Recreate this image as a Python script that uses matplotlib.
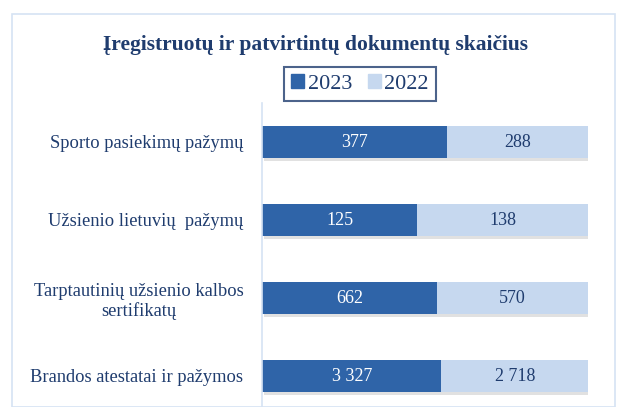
import numpy as np
import matplotlib.pyplot as plt
from matplotlib.patches import Rectangle, Patch
import matplotlib.patheffects as pe

# duomenys (iš viršaus į apačią)
categories = ["Sporto pasiekimų pažymų",
              "Užsienio lietuvių  pažymų",
              "Tarptautinių užsienio kalbos\nsertifikatų",
              "Brandos atestatai ir pažymos"]
vals_2023 = np.array([377, 125, 662, 3327])
vals_2022 = np.array([288, 138, 570, 2718])
labels_2023 = ["377", "125", "662", "3 327"]
labels_2022 = ["288", "138", "570", "2 718"]

dark = "#2F64A8"
light = "#C6D8EF"
txt = "#1F3C6E"

plt.rcParams['font.family'] = ['Liberation Serif', 'DejaVu Serif']

W, H = 623, 407
fig = plt.figure(figsize=(W / 100, H / 100), dpi=100)

# rėmelis
fig.patches.append(Rectangle((12 / W, 0), (615 - 12) / W, (H - 14) / H,
                             transform=fig.transFigure, fill=False,
                             edgecolor="#D6E3F3", linewidth=1.2))

# ašys: kairė 262, dešinė 588, viršus 103, apačia 415 (už vaizdo ribų)
ax = fig.add_axes([262 / W, (H - 415) / H, (588 - 262) / W, (415 - 103) / H])

total = vals_2023 + vals_2022
p23 = vals_2023 / total
p22 = vals_2022 / total
y = np.arange(len(categories))
h = 32 / 78

shadow = [pe.SimplePatchShadow(offset=(1.5, -2), shadow_rgbFace="#aaaaaa", alpha=0.35), pe.Normal()]
ax.barh(y, p23, height=h, color=dark, path_effects=shadow)
ax.barh(y, p22, left=p23, height=h, color=light, path_effects=shadow)

for i in range(len(y)):
    ax.text(p23[i] / 2, y[i] + 0.01, labels_2023[i], ha="center", va="center",
            color="white", fontsize=13)
    ax.text(p23[i] + p22[i] / 2, y[i] + 0.01, labels_2022[i], ha="center", va="center",
            color=txt, fontsize=13)

ax.set_xlim(0, 1)
ax.set_ylim(len(y) - 0.5, -0.5)
ax.set_yticks(y)
ax.set_yticklabels(categories, fontsize=13.3, color=txt, ha="right", multialignment="center")
ax.tick_params(axis="y", length=0, pad=13.5)
ax.set_xticks([])
for s in ["top", "right", "bottom"]:
    ax.spines[s].set_visible(False)
ax.spines["left"].set_color("#D6E3F3")
ax.spines["left"].set_linewidth(1.2)

fig.text(315.5 / W, (H - 45) / H, "Įregistruotų ir patvirtintų dokumentų skaičius",
         ha="center", va="center", fontsize=15.5, fontweight="bold", color=txt)

handles = [Patch(color=dark, label="2023"), Patch(color=light, label="2022")]
leg = fig.legend(handles=handles, loc="center", bbox_to_anchor=(360 / W, (H - 84) / H),
                 ncol=2, fontsize=16, frameon=True, fancybox=False,
                 handlelength=0.6, handleheight=0.6, handletextpad=0.15,
                 columnspacing=0.7, borderpad=0.3, labelcolor=txt)
leg.get_frame().set_edgecolor("#1F3C6E")
leg.get_frame().set_linewidth(1.5)

fig.savefig("out.png", dpi=100)
